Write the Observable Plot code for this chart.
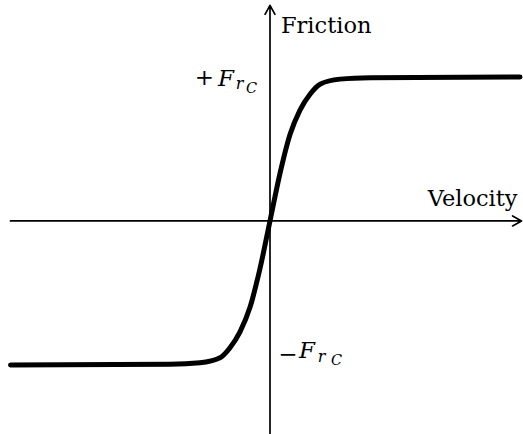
<!DOCTYPE html>
<html>
<head>
<meta charset="utf-8">
<script src="https://cdn.jsdelivr.net/npm/d3@7"></script>
<script src="https://cdn.jsdelivr.net/npm/@observablehq/plot@0.6"></script>
<style>
  body { margin: 0; background: #fff; }
</style>
</head>
<body>
<div id="chart"></div>
<script>
// Coulomb friction with a smooth transition through zero velocity
// (velocity in arbitrary units, friction normalised to F_rC).
const velocity = [-2.595, -1.0, -0.7, -0.5, -0.4, -0.3, -0.2, -0.1, 0, 0.1, 0.2, 0.3, 0.4, 0.5, 0.7, 1.0, 2.5];
const friction = [-1, -0.995, -0.985, -0.95, -0.88, -0.77, -0.6, -0.33, 0, 0.33, 0.6, 0.77, 0.88, 0.95, 0.985, 0.995, 1];

// Extent of the two axis arrows
const velocityAxis = [-2.595, 2.515];
const frictionAxis = [-1.476, 1.497];

const axisTitles = ["Velocity", "Friction"];
const levels = [1, -1];
const levelSigns = ["+", "\u2212"];

const curve = velocity.map((v, i) => ({v, f: friction[i]}));
const serif = "DejaVu Serif";

// ±F_{r_C}: sign, italic F, subscript r, sub-subscript C
function levelLabel(level, sign, o) {
  const base = {x: () => 0, y: d => d, fontFamily: serif, fill: "black", lineAnchor: "bottom", textAnchor: "middle"};
  return [
    Plot.text([level], {...base, text: () => sign, fontSize: 23, dx: o.sign[0], dy: o.sign[1]}),
    Plot.text([level], {...base, text: () => "F", fontStyle: "italic", fontSize: 23, dx: o.F[0], dy: o.F[1]}),
    Plot.text([level], {...base, text: () => "r", fontStyle: "italic", fontSize: 16, dx: o.r[0], dy: o.r[1]}),
    Plot.text([level], {...base, text: () => "C", fontStyle: "italic", fontSize: 14.5, dx: o.C[0], dy: o.C[1]})
  ];
}

const chart = Plot.plot({
  width: 523,
  height: 434,
  margin: 0,
  style: {fontFamily: serif},
  x: {domain: [-2.695, 2.535], axis: null},
  y: {domain: [-1.483, 1.531], axis: null},
  marks: [
    Plot.arrow([0], {
      x1: () => velocityAxis[0], x2: () => velocityAxis[1], y1: () => 0, y2: () => 0,
      stroke: "black", strokeWidth: 1.7, headLength: 9, headAngle: 58
    }),
    Plot.arrow([0], {
      x1: () => 0, x2: () => 0, y1: () => frictionAxis[0], y2: () => frictionAxis[1],
      stroke: "black", strokeWidth: 1.7, headLength: 9, headAngle: 58
    }),
    Plot.line(curve, {x: "v", y: "f", curve: "monotone-x", stroke: "black", strokeWidth: 5}),
    Plot.text([axisTitles[0]], {
      x: () => velocityAxis[1], y: () => 0, text: d => d,
      textAnchor: "end", lineAnchor: "bottom", dx: -4, dy: -14.5,
      fontFamily: serif, fontSize: 22.5, fill: "black"
    }),
    Plot.text([axisTitles[1]], {
      x: () => 0, y: () => frictionAxis[1], text: d => d,
      textAnchor: "start", lineAnchor: "bottom", dx: 11, dy: 28,
      fontFamily: serif, fontSize: 22.5, fill: "black"
    }),
    ...levelLabel(levels[0], levelSigns[0], {sign: [-65.5, 8], F: [-44, 9.5], r: [-30.5, 12.5], C: [-18.5, 16.5]}),
    ...levelLabel(levels[1], levelSigns[1], {sign: [18, -2.5], F: [37, -6.5], r: [51.5, -2.5], C: [66.5, 0.5]})
  ]
});

document.getElementById("chart").append(chart);
</script>
</body>
</html>
